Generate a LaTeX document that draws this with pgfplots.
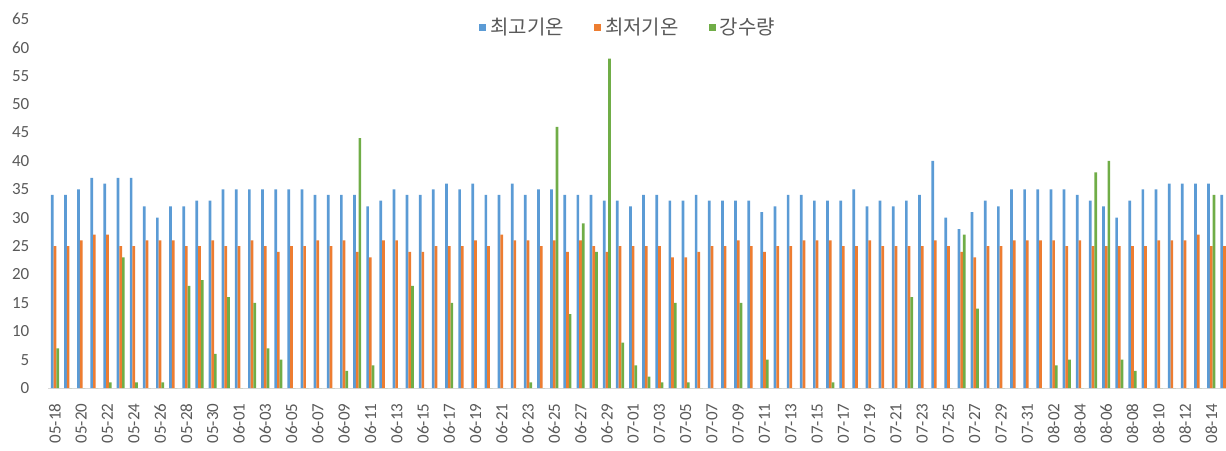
\documentclass[border=0pt]{standalone}
\usepackage{fontspec}
\setmainfont{Carlito}
\newfontfamily\kr{Noto Sans CJK KR}
\usepackage{pgfplots}
\usepackage{pgfplotstable}
\pgfplotsset{compat=1.18}
\definecolor{cblue}{HTML}{5B9BD5}
\definecolor{corange}{HTML}{ED7D31}
\definecolor{cgreen}{HTML}{70AD47}
\definecolor{ctext}{HTML}{595959}
\pgfplotstableread{
day hi lo rain
0 34 25 7
1 34 25 0
2 35 26 0
3 37 27 0
4 36 27 1
5 37 25 23
6 37 25 1
7 32 26 0
8 30 26 1
9 32 26 0
10 32 25 18
11 33 25 19
12 33 26 6
13 35 25 16
14 35 25 0
15 35 26 15
16 35 25 7
17 35 24 5
18 35 25 0
19 35 25 0
20 34 26 0
21 34 25 0
22 34 26 3
23 34 24 44
24 32 23 4
25 33 26 0
26 35 26 0
27 34 24 18
28 34 24 0
29 35 25 0
30 36 25 15
31 35 25 0
32 36 26 0
33 34 25 0
34 34 27 0
35 36 26 0
36 34 26 1
37 35 25 0
38 35 26 46
39 34 24 13
40 34 26 29
41 34 25 24
42 33 24 58
43 33 25 8
44 32 25 4
45 34 25 2
46 34 25 1
47 33 23 15
48 33 23 1
49 34 24 0
50 33 25 0
51 33 25 0
52 33 26 15
53 33 25 0
54 31 24 5
55 32 25 0
56 34 25 0
57 34 26 0
58 33 26 0
59 33 26 1
60 33 25 0
61 35 25 0
62 32 26 0
63 33 25 0
64 32 25 0
65 33 25 16
66 34 25 0
67 40 26 0
68 30 25 0
69 28 24 27
70 31 23 14
71 33 25 0
72 32 25 0
73 35 26 0
74 35 26 0
75 35 26 0
76 35 26 4
77 35 25 5
78 34 26 0
79 33 25 38
80 32 25 40
81 30 25 5
82 33 25 3
83 35 25 0
84 35 26 0
85 36 26 0
86 36 26 0
87 36 27 0
88 36 25 34
89 34 25 0
}\data
\begin{document}
\begin{tikzpicture}
\path[use as bounding box] (-24.2pt,-31pt) rectangle (588.8pt,194pt);
\begin{axis}[
  at={(0pt,0pt)}, anchor=south west,
  scale only axis, width=591.3pt, height=184.5pt,
  xmin=-0.5, xmax=89.5, ymin=0, ymax=65,
  ybar=0pt, bar width=1.35pt,
  axis line style={draw=none},
  tick style={draw=none},
  ytick={0,5,...,65},
  xtick={0,2,...,88},
  xticklabels={05-18,05-20,05-22,05-24,05-26,05-28,05-30,06-01,06-03,06-05,06-07,06-09,06-11,06-13,06-15,06-17,06-19,06-21,06-23,06-25,06-27,06-29,07-01,07-03,07-05,07-07,07-09,07-11,07-13,07-15,07-17,07-19,07-21,07-23,07-25,07-27,07-29,07-31,08-02,08-04,08-06,08-08,08-10,08-12,08-14},
  xticklabel style={rotate=90, anchor=east, font=\fontsize{8.5}{9}\selectfont, text=ctext},
  yticklabel style={font=\fontsize{8.5}{9}\selectfont, text=ctext, anchor=east, xshift=-6pt},
  /pgf/number format/assume math mode=true,
  clip=false,
  legend style={at={(0.491,0.976)}, anchor=center, draw=none, fill=none,
    legend columns=-1, font=\kr\fontsize{10}{12}\selectfont, text=ctext,
    /tikz/every even column/.append style={column sep=13pt}},
  legend image code/.code={\fill (0pt,-1.8pt) rectangle (3.6pt,1.8pt);},
]
\draw[color=black!15, line width=0.5pt] (axis cs:-0.5,0) -- (axis cs:89.5,0);
\addplot[fill=cblue, draw=none] table[x=day, y=hi] {\data};
\addplot[fill=corange, draw=none] table[x=day, y=lo] {\data};
\addplot[fill=cgreen, draw=none] table[x=day, y=rain] {\data};
\legend{최고기온,최저기온,강수량}
\end{axis}
\end{tikzpicture}
\end{document}
